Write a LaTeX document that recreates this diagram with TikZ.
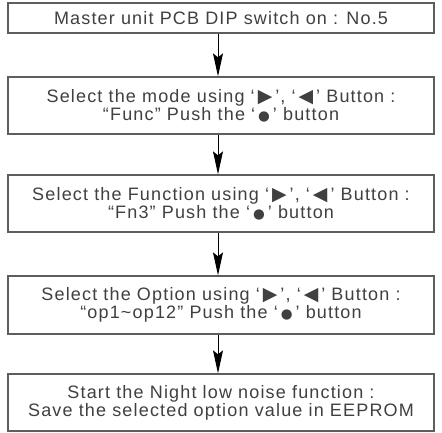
\documentclass[tikz,border=0pt]{standalone}
\usepackage{fontspec}
\setmainfont{Liberation Sans}[LetterSpace=6.5]
\newfontfamily\symfont{DejaVu Sans}
\usetikzlibrary{arrows.meta}
\definecolor{txt}{HTML}{404040}
\definecolor{frame}{HTML}{5E5E5E}
\newcommand{\rtri}{{\symfont\scalebox{1.05}{▶}}}
\newcommand{\ltri}{{\symfont\scalebox{1.05}{◀}}}
\newcommand{\bdot}{{\symfont\scalebox{0.75}{●}}}
\begin{document}
\begin{tikzpicture}[x=1pt,y=1pt,
  stepbox/.style={draw=frame,line width=1.3pt,fill=white,minimum width=426pt,inner sep=0pt,
    text=txt,align=center,font=\fontsize{18}{18.3}\selectfont},
  arr/.style={draw=black,line width=1pt,-{Stealth[length=23pt,width=10pt,inset=4pt]}}]
\useasboundingbox (0,0) rectangle (442,-432);
\node[stepbox,minimum height=30pt] (b1) at (221,-18) {Master unit PCB DIP switch on : No.5};
\node[stepbox,minimum height=57pt] (b2) at (221,-105.5) {Select the mode using ‘\,\rtri\,’, ‘\,\ltri\,’ Button :\\“Func” Push the ‘\,\bdot\,’ button};
\node[stepbox,minimum height=57pt] (b3) at (221,-203.5) {Select the Function using ‘\,\rtri\,’, ‘\,\ltri\,’ Button :\\“Fn3” Push the ‘\,\bdot\,’ button};
\node[stepbox,minimum height=58pt] (b4) at (221,-305) {Select the Option using ‘\,\rtri\,’, ‘\,\ltri\,’ Button :\\“op1\textasciitilde op12” Push the ‘\,\bdot\,’ button};
\node[stepbox,minimum height=57pt] (b5) at (221,-402.5) {Start the Night low noise function :\\Save the selected option value in EEPROM};
\draw[arr] ([xshift=-3pt]b1.south) -- ([xshift=-3pt]b2.north);
\draw[arr] ([xshift=-3pt]b2.south) -- ([xshift=-3pt]b3.north);
\draw[arr] ([xshift=-3pt]b3.south) -- ([xshift=-3pt]b4.north);
\draw[arr] ([xshift=-3pt]b4.south) -- ([xshift=-3pt]b5.north);
\end{tikzpicture}
\end{document}
